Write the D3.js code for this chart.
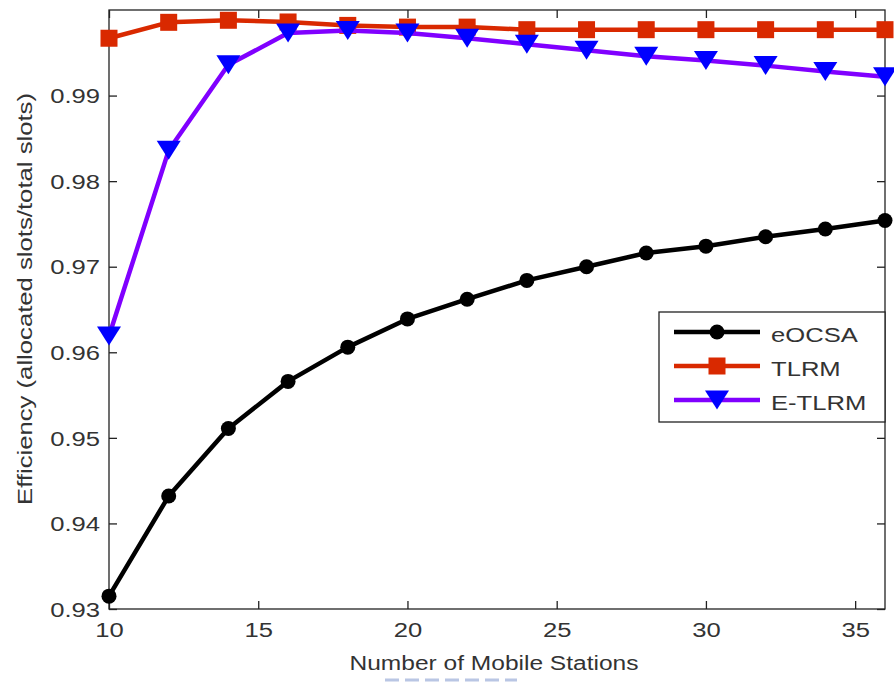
<!DOCTYPE html>
<html>
<head>
<meta charset="utf-8">
<script src="https://cdn.jsdelivr.net/npm/d3@7/dist/d3.min.js"></script>
<style>
  html, body { margin: 0; padding: 0; background: #fff; }
  svg { display: block; }
  text { font-family: "Liberation Sans", Arial, Helvetica, sans-serif; fill: #333; }
</style>
</head>
<body>
<svg id="chart" width="894" height="682"></svg>
<script>
// ---- data ----
const stations = [10, 12, 14, 16, 18, 20, 22, 24, 26, 28, 30, 32, 34, 36];
const eOCSA  = [0.9315, 0.9432, 0.9511, 0.9566, 0.9606, 0.9639, 0.9662, 0.9684, 0.9700, 0.9716, 0.9724, 0.9735, 0.9744, 0.9754];
const TLRM   = [0.9967, 0.99856, 0.9988, 0.9986, 0.9982, 0.9980, 0.9980, 0.9977, 0.9977, 0.9977, 0.9977, 0.9977, 0.9977, 0.9977];
const ETLRM  = [0.9619, 0.9836, 0.9936, 0.9973, 0.9976, 0.9973, 0.9967, 0.9960, 0.9953, 0.9946, 0.9941, 0.9935, 0.9928, 0.9922];
const xTicks = [10, 15, 20, 25, 30, 35];
const yTicks = [0.93, 0.94, 0.95, 0.96, 0.97, 0.98, 0.99];
const seriesNames = ["eOCSA", "TLRM", "E-TLRM"];

const svg = d3.select("#chart");
const L = 109, R = 885, T = 10, B = 609;

const x = d3.scaleLinear().domain([10, 36]).range([L, R]);
const y = d3.scaleLinear().domain([0.93, 1.0]).range([B, T]);

const axisColor = "#222";
const textColor = "#333";
const tickLen = 8;
const STRETCH = 1.28;

function stretch(sel, factor) {
  sel.each(function () {
    const w = this.getComputedTextLength();
    d3.select(this).attr("textLength", w * factor).attr("lengthAdjust", "spacingAndGlyphs");
  });
}

// axes box
svg.append("rect").attr("x", L).attr("y", T).attr("width", R - L).attr("height", B - T)
  .attr("fill", "none").attr("stroke", axisColor).attr("stroke-width", 1.3);

// ticks (inward, mirrored)
const gx = svg.append("g").attr("transform", `translate(0,${B})`)
  .call(d3.axisBottom(x).tickValues(xTicks).tickSizeInner(-tickLen).tickSizeOuter(0).tickPadding(14));
const gxTop = svg.append("g").attr("transform", `translate(0,${T})`)
  .call(d3.axisTop(x).tickValues(xTicks).tickSizeInner(-tickLen).tickSizeOuter(0).tickFormat(""));
const gy = svg.append("g").attr("transform", `translate(${L},0)`)
  .call(d3.axisLeft(y).tickValues(yTicks).tickSizeInner(-tickLen).tickSizeOuter(0).tickPadding(8).tickFormat(d3.format(".2f")));
const gyR = svg.append("g").attr("transform", `translate(${R},0)`)
  .call(d3.axisRight(y).tickValues(yTicks).tickSizeInner(-tickLen).tickSizeOuter(0).tickFormat(""));

[gx, gxTop, gy, gyR].forEach(g => {
  g.select(".domain").remove();
  g.selectAll(".tick line").attr("stroke", axisColor).attr("stroke-width", 1.3);
  g.selectAll(".tick text").attr("font-size", 20).attr("fill", textColor)
    .style("font-family", '"Liberation Sans", Arial, sans-serif');
});
gx.selectAll(".tick text").attr("dy", "0.71em");
gy.selectAll(".tick text").attr("dy", "0.36em").attr("x", -9);
stretch(gx.selectAll(".tick text"), STRETCH);
stretch(gy.selectAll(".tick text"), STRETCH);

// axis labels
svg.append("text").attr("x", 494).attr("y", 670).attr("text-anchor", "middle")
  .attr("font-size", 20).attr("textLength", 289).attr("lengthAdjust", "spacingAndGlyphs")
  .text("Number of Mobile Stations");
svg.append("text").attr("transform", `translate(32,299) rotate(-90)`)
  .attr("text-anchor", "middle").attr("font-size", 20)
  .attr("textLength", 412).attr("lengthAdjust", "spacingAndGlyphs")
  .text("Efficiency (allocated slots/total slots)");

// series
const series = [
  { name: seriesNames[0], values: eOCSA, line: "#000000", marker: "circle", fill: "#000000" },
  { name: seriesNames[1], values: TLRM, line: "#d92900", marker: "square", fill: "#d92900" },
  { name: seriesNames[2], values: ETLRM, line: "#8000ff", marker: "triangle-down", fill: "#0000ff" }
];

function drawMarker(g, type, cx, cy, color) {
  if (type === "circle") {
    g.append("circle").attr("cx", cx).attr("cy", cy).attr("r", 7.5).attr("fill", color);
  } else if (type === "square") {
    g.append("rect").attr("x", cx - 8.5).attr("y", cy - 8.5).attr("width", 17).attr("height", 17).attr("fill", color);
  } else {
    const w = 12, h = 9.5;
    g.append("path").attr("d", `M${cx - w},${cy - h}L${cx + w},${cy - h}L${cx},${cy + h}Z`).attr("fill", color);
  }
}

const lineGen = d3.line().x((d, i) => x(stations[i])).y(d => y(d));
series.forEach(s => {
  svg.append("path").datum(s.values).attr("d", lineGen)
    .attr("fill", "none").attr("stroke", s.line).attr("stroke-width", 4.5).attr("stroke-linejoin", "round");
  const g = svg.append("g");
  s.values.forEach((v, i) => drawMarker(g, s.marker, x(stations[i]), y(v), s.fill));
});

// legend
const lg = svg.append("g");
lg.append("rect").attr("x", 659).attr("y", 312).attr("width", R - 659).attr("height", 110)
  .attr("fill", "#fff").attr("stroke", axisColor).attr("stroke-width", 1.3);
series.forEach((s, i) => {
  const yy = 332 + i * 34;
  lg.append("line").attr("x1", 674).attr("x2", 760).attr("y1", yy).attr("y2", yy)
    .attr("stroke", s.line).attr("stroke-width", 4.5);
  drawMarker(lg, s.marker, 717, yy, s.fill);
  const t = lg.append("text").attr("x", 771).attr("y", yy + 3).attr("dy", "0.36em").attr("font-size", 20).text(s.name);
  stretch(t, STRETCH);
});

// faint artifact at bottom
svg.append("line").attr("x1", 385).attr("x2", 517).attr("y1", 680).attr("y2", 680)
  .attr("stroke", "#b9c6e4").attr("stroke-width", 3).attr("stroke-dasharray", "14,6");
</script>
</body>
</html>
